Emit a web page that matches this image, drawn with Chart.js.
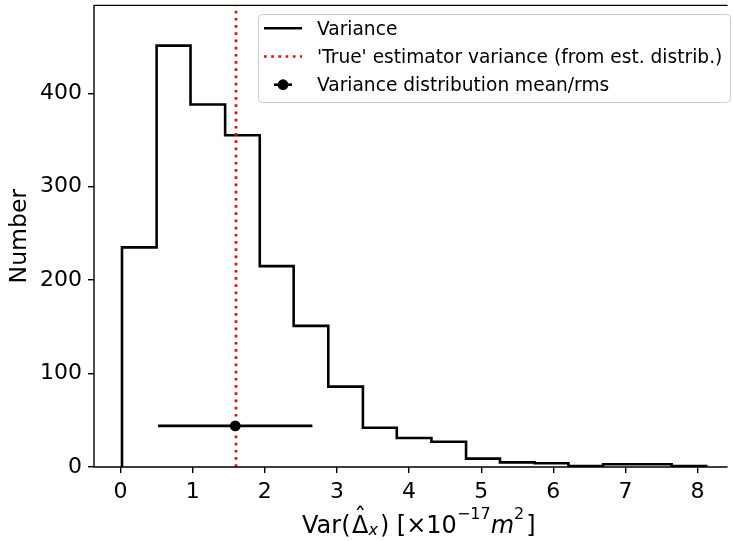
<!DOCTYPE html>
<html>
<head>
<meta charset="utf-8">
<script src="https://cdn.jsdelivr.net/npm/chart.js@4.4.1/dist/chart.umd.min.js"></script>
<style>
  html, body { margin: 0; padding: 0; background: #fff; overflow: hidden; }
  #wrap { width: 733px; height: 541px; }
</style>
</head>
<body>
<div id="wrap"><canvas id="chart" width="733" height="541"></canvas></div>
<script>
// histogram of the variance estimates
const binEdges = [0.02, 0.50, 0.97, 1.45, 1.93, 2.40, 2.88, 3.36, 3.83, 4.31, 4.79, 5.26, 5.74, 6.21, 6.69, 7.17, 7.64, 8.12];
const binCounts = [235, 451, 388, 355, 215, 151, 86, 42, 31, 27, 9, 5, 4, 1, 3, 3, 1];

// reference values
const trueVariance = 1.60;
const meanVariance = 1.59;
const rmsVariance = 1.07;
const meanMarkerY = 44;

const xTicks = [0, 1, 2, 3, 4, 5, 6, 7, 8];
const yTicks = [0, 100, 200, 300, 400];
// the right end of the axes is cut off in the picture
const xRange = [-0.368, 8.416];
const yRange = [0, 494];

const legendLabels = ['Variance', "'True' estimator variance (from est. distrib.)", 'Variance distribution mean/rms'];

const FONT = "'DejaVu Sans', sans-serif";

// step outline: up at the first edge, across each bin, down at the last edge
let histPoints = [{x: binEdges[0], y: 0}];
binCounts.forEach((c, i) => histPoints.push({x: binEdges[i], y: c}));
histPoints.push({x: binEdges[binEdges.length - 1], y: binCounts[binCounts.length - 1]});
histPoints.push({x: binEdges[binEdges.length - 1], y: 0});

// frame, legend and x axis label (mathtext-like)
const extras = {
  id: 'extras',
  afterDatasetsDraw(chart) {
    const ctx = chart.ctx, a = chart.chartArea;
    ctx.save();
    ctx.strokeStyle = '#000';
    ctx.lineWidth = 1.4;
    ctx.beginPath();
    ctx.moveTo(a.right, a.top);
    ctx.lineTo(a.left, a.top);
    ctx.lineTo(a.left, a.bottom);
    ctx.lineTo(a.right, a.bottom);
    ctx.stroke();
    ctx.restore();
  },
  afterDraw(chart) {
    const ctx = chart.ctx;
    ctx.save();

    // legend box
    ctx.beginPath();
    ctx.roundRect(258.5, 14.5, 472, 88, 4);
    ctx.fillStyle = 'rgba(255,255,255,0.8)';
    ctx.fill();
    ctx.strokeStyle = '#cccccc';
    ctx.lineWidth = 1;
    ctx.stroke();

    const rows = [28.3, 56.5, 84.7];
    // solid
    ctx.strokeStyle = '#000';
    ctx.lineWidth = 2.6;
    ctx.beginPath(); ctx.moveTo(264, rows[0]); ctx.lineTo(302, rows[0]); ctx.stroke();
    // dotted red
    ctx.strokeStyle = '#ff0000';
    ctx.setLineDash([2.7, 4.5]);
    ctx.beginPath(); ctx.moveTo(264, rows[1]); ctx.lineTo(302, rows[1]); ctx.stroke();
    ctx.setLineDash([]);
    // errorbar handle
    ctx.strokeStyle = '#000';
    ctx.beginPath(); ctx.moveTo(274, rows[2]); ctx.lineTo(292, rows[2]); ctx.stroke();
    ctx.fillStyle = '#000';
    ctx.beginPath(); ctx.arc(283, rows[2], 5.4, 0, Math.PI * 2); ctx.fill();

    ctx.font = '18.6px ' + FONT;
    ctx.fillStyle = '#000';
    ctx.textBaseline = 'alphabetic';
    legendLabels.forEach((t, i) => ctx.fillText(t, 317, rows[i] + 6.5));

    // x axis title: Var(Δ̂_x) [×10^{-17} m^2]
    const base = 533;
    const big = '24px ' + FONT, small = '16px ' + FONT;
    const itBig = 'italic 24px ' + FONT, itSmall = 'italic 16px ' + FONT;
    const runs = [
      {t: 'Var(', f: big},
      {t: 'Δ', f: big, hat: true, gap: 1.5},
      {t: 'x', f: itSmall, dy: 2},
      {t: ') [', f: big, gap: 2},
      {t: '×10', f: big},
      {t: '−17', f: small, dy: -14},
      {t: 'm', f: itBig},
      {t: '2', f: small, dy: -14},
      {t: ']', f: big, gap: 2}
    ];
    let x = 302;
    ctx.textAlign = 'left';
    runs.forEach(r => {
      x += (r.gap || 0);
      ctx.font = r.f;
      const w = ctx.measureText(r.t).width;
      ctx.fillText(r.t, x, base + (r.dy || 0));
      if (r.hat) {
        ctx.textAlign = 'center';
        ctx.fillText('ˆ', x + w / 2, base - 8.5);
        ctx.textAlign = 'left';
      }
      x += w;
    });
    ctx.restore();
  }
};

const axisCommon = {
  type: 'linear',
  grid: { drawOnChartArea: false, color: '#000', lineWidth: 1.4, tickLength: 6, tickColor: '#000' },
  border: { display: false },
  ticks: { color: '#000', font: { family: FONT, size: 22 }, padding: 6, maxRotation: 0 }
};

new Chart(document.getElementById('chart'), {
  type: 'line',
  data: {
    datasets: [
      {
        label: 'mean',
        data: [{x: meanVariance, y: meanMarkerY}],
        showLine: false,
        pointRadius: 5.4,
        pointBackgroundColor: '#000',
        pointBorderWidth: 0,
        order: 0
      },
      {
        label: 'rms',
        data: [{x: meanVariance - rmsVariance, y: meanMarkerY}, {x: meanVariance + rmsVariance, y: meanMarkerY}],
        borderColor: '#000',
        borderWidth: 2.6,
        pointRadius: 0,
        order: 1
      },
      {
        label: legendLabels[1],
        data: [{x: trueVariance, y: yRange[0]}, {x: trueVariance, y: yRange[1]}],
        borderColor: '#ff0000',
        borderWidth: 2.6,
        borderDash: [2.7, 4.5],
        pointRadius: 0,
        order: 2
      },
      {
        label: legendLabels[0],
        data: histPoints,
        stepped: 'before',
        borderColor: '#000',
        borderWidth: 2.6,
        borderJoinStyle: 'miter',
        pointRadius: 0,
        fill: false,
        order: 3
      }
    ]
  },
  options: {
    responsive: false,
    devicePixelRatio: 1,
    animation: false,
    events: [],
    layout: { padding: { left: 0, top: 5, right: 0, bottom: 0 } },
    plugins: { legend: { display: false }, tooltip: { enabled: false } },
    scales: {
      x: Object.assign({}, axisCommon, {
        min: xRange[0], max: xRange[1],
        afterBuildTicks: s => { s.ticks = xTicks.map(v => ({value: v})); },
        afterFit: s => { s.height = 74; s.paddingLeft = 0; s.paddingRight = 0; }
      }),
      y: Object.assign({}, axisCommon, {
        min: yRange[0], max: yRange[1],
        afterBuildTicks: s => { s.ticks = yTicks.map(v => ({value: v})); },
        afterFit: s => { s.width = 94; s.paddingTop = 0; s.paddingBottom = 0; },
        title: { display: true, text: 'Number', color: '#000', font: { family: FONT, size: 23.5 }, padding: { top: 6, bottom: 0 } }
      })
    }
  },
  plugins: [extras]
});
</script>
</body>
</html>
